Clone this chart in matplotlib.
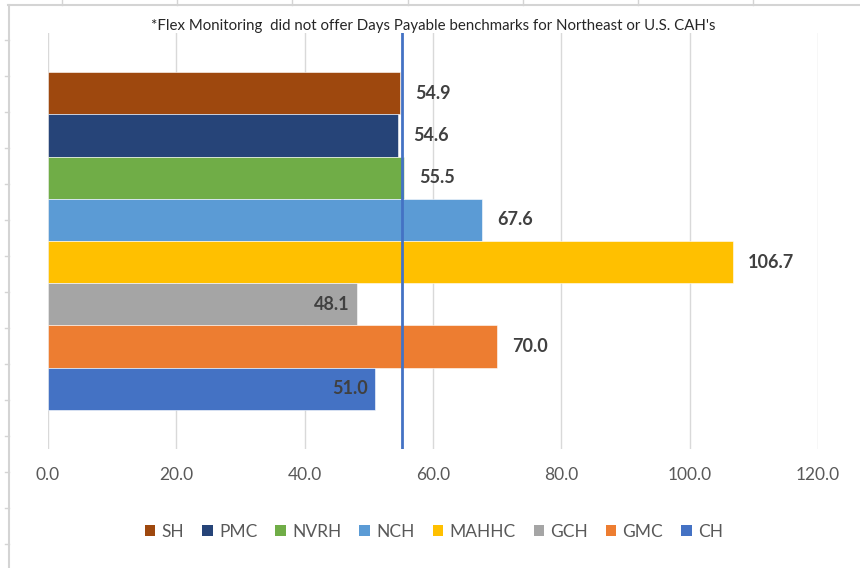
import numpy as np
import matplotlib
matplotlib.use('Agg')
import matplotlib.pyplot as plt
from matplotlib.patches import Patch
from matplotlib.lines import Line2D

plt.rcParams['font.family'] = ['Lato', 'DejaVu Sans']

hospitals = ['SH', 'PMC', 'NVRH', 'NCH', 'MAHHC', 'GCH', 'GMC', 'CH']
days_payable = [54.9, 54.6, 55.5, 67.6, 106.7, 48.1, 70.0, 51.0]
colors = ['#9E480E', '#264478', '#70AD47', '#5B9BD5', '#FFC000', '#A5A5A5', '#ED7D31', '#4472C4']
inside_label = ['GCH', 'CH']
benchmark = 55.2
x_ticks = [0, 20, 40, 60, 80, 100, 120]
note = "*Flex Monitoring  did not offer Days Payable benchmarks for Northeast or U.S. CAH's"

W, H = 860, 568
fig = plt.figure(figsize=(W / 100, H / 100), dpi=100)
ax = fig.add_axes([48 / W, 1 - 449 / H, 770 / W, 416 / H])

n = len(hospitals)
ypos = np.arange(n)
ax.barh(ypos, days_payable, height=1.0, color=colors, edgecolor='white', linewidth=0.4, zorder=3)
ax.set_ylim(n - 1 + 1.43, -1.43)
ax.set_xlim(0, 120)

for y, v, h in zip(ypos, days_payable, hospitals):
    if h in inside_label:
        ax.annotate('{:.1f}'.format(v), (v, y), xytext=(-5, 0), textcoords='offset points',
                    ha='right', va='center', fontsize=13, fontweight='bold', color='#404040', zorder=5)
    else:
        ax.annotate('{:.1f}'.format(v), (v, y), xytext=(11, 0), textcoords='offset points',
                    ha='left', va='center', fontsize=13, fontweight='bold', color='#404040', zorder=5)

ax.axvline(benchmark, color='#4472C4', linewidth=2, zorder=4)

ax.set_xticks(x_ticks)
ax.set_xticklabels(['{:.1f}'.format(t) for t in x_ticks])
ax.tick_params(axis='x', length=0, pad=13, labelsize=12.5, labelcolor='#595959')
ax.set_yticks([])
ax.grid(axis='x', color='#D9D9D9', linewidth=1, zorder=0)
for s in ax.spines.values():
    s.set_visible(False)

ax.set_title(note, fontsize=10.8, color='#262626', pad=1)

handles = [Patch(facecolor=c, edgecolor='none') for c in colors]
fig.legend(handles, hospitals, loc='center', bbox_to_anchor=(434 / W, 1 - 532 / H), ncol=n,
           frameon=False, fontsize=12.5, labelcolor='#595959', handlelength=0.6, handleheight=0.6,
           handletextpad=0.35, columnspacing=1.05)

# spreadsheet frame around the chart
fr = dict(color='#D4D4D4', linewidth=1.5, transform=fig.transFigure)
fig.add_artist(Line2D([8 / W, 1], [1 - 5 / H, 1 - 5 / H], **fr))
fig.add_artist(Line2D([9 / W, 9 / W], [1 - 5 / H, 0], **fr))
for px in np.arange(62, W, 115.2):
    fig.add_artist(Line2D([px / W, px / W], [1, 1 - 5 / H], color='#D4D4D4', linewidth=1, transform=fig.transFigure))
for py in np.arange(40, H, 36):
    fig.add_artist(Line2D([5 / W, 9 / W], [1 - py / H, 1 - py / H], color='#D4D4D4', linewidth=1, transform=fig.transFigure))

fig.savefig('out.png', dpi=100, facecolor='white')
